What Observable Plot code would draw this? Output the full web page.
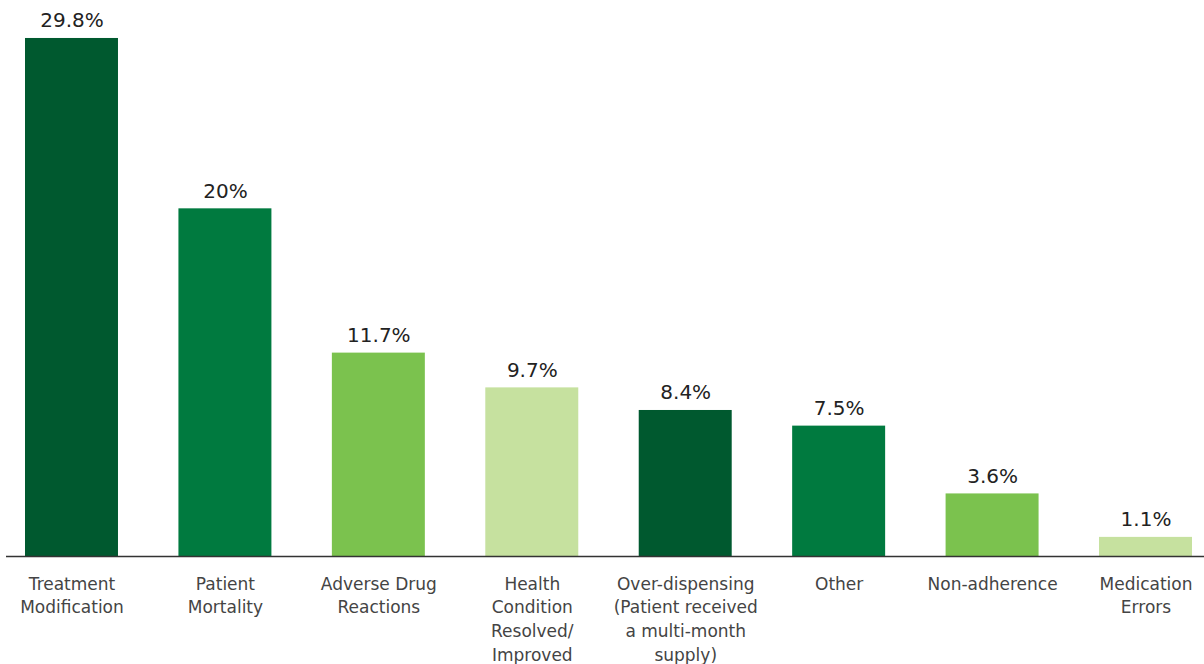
<!DOCTYPE html>
<html>
<head>
<meta charset="utf-8">
<script src="https://cdn.jsdelivr.net/npm/d3@7"></script>
<script src="https://cdn.jsdelivr.net/npm/@observablehq/plot@0.6"></script>
<style>
  html, body { margin: 0; padding: 0; background: #fff; }
  #chart { width: 1204px; height: 664px; }
</style>
</head>
<body>
<div id="chart"></div>
<script>
const categories = [
  "Treatment\nModification",
  "Patient\nMortality",
  "Adverse Drug\nReactions",
  "Health\nCondition\nResolved/\nImproved",
  "Over-dispensing\n(Patient received\na multi-month\nsupply)",
  "Other",
  "Non-adherence",
  "Medication\nErrors"
];
const values = [29.8, 20, 11.7, 9.7, 8.4, 7.5, 3.6, 1.1];
const valueLabels = ["29.8%", "20%", "11.7%", "9.7%", "8.4%", "7.5%", "3.6%", "1.1%"];
const barColors = ["#00592F", "#007A3F", "#7BC24E", "#C6E19F", "#00592F", "#007A3F", "#7BC24E", "#C6E19F"];

const data = categories.map((c, i) => ({cat: c, value: values[i], label: valueLabels[i], color: barColors[i]}));

const chart = Plot.plot({
  width: 1204,
  height: 664,
  marginLeft: 6,
  marginRight: 0,
  marginTop: 34.5,
  marginBottom: 108,
  style: {fontFamily: "'DejaVu Sans', sans-serif", background: "#fff"},
  x: {domain: categories, range: [25, 1192], paddingInner: 0.394, paddingOuter: 0, round: false, label: null},
  y: {domain: [0, 30], axis: null},
  marks: [
    Plot.barY(data, {x: "cat", y: "value", fill: "color", insetLeft: 0, insetRight: 0}),
    Plot.text(data, {x: "cat", y: "value", text: "label", dy: -11, fontSize: 20, fill: "#222", lineAnchor: "bottom"}),
    Plot.ruleY([0], {stroke: "#333", strokeWidth: 1.5}),
    Plot.axisX({tickSize: 0, tickPadding: 16, fontSize: 17, lineHeight: 1.41, fill: "#444", lineAnchor: "top"})
  ]
});
document.getElementById("chart").appendChild(chart);
</script>
</body>
</html>
